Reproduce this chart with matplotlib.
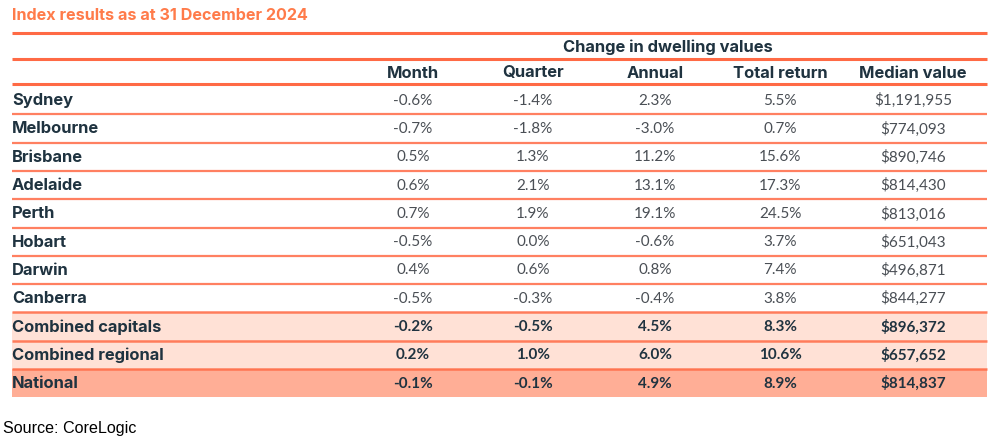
import matplotlib
matplotlib.use("Agg")
import matplotlib.pyplot as plt

title = "Index results as at 31 December 2024"
group_header = "Change in dwelling values"
columns = ["Month", "Quarter", "Annual", "Total return", "Median value"]
regions = ["Sydney", "Melbourne", "Brisbane", "Adelaide", "Perth", "Hobart",
           "Darwin", "Canberra", "Combined capitals", "Combined regional", "National"]
month = ["-0.6%", "-0.7%", "0.5%", "0.6%", "0.7%", "-0.5%", "0.4%", "-0.5%", "-0.2%", "0.2%", "-0.1%"]
quarter = ["-1.4%", "-1.8%", "1.3%", "2.1%", "1.9%", "0.0%", "0.6%", "-0.3%", "-0.5%", "1.0%", "-0.1%"]
annual = ["2.3%", "-3.0%", "11.2%", "13.1%", "19.1%", "-0.6%", "0.8%", "-0.4%", "4.5%", "6.0%", "4.9%"]
total_return = ["5.5%", "0.7%", "15.6%", "17.3%", "24.5%", "3.7%", "7.4%", "3.8%", "8.3%", "10.6%", "8.9%"]
median_value = ["$1,191,955", "$774,093", "$890,746", "$814,430", "$813,016", "$651,043",
                "$496,871", "$844,277", "$896,372", "$657,652", "$814,837"]
source = "Source: CoreLogic"

W, H = 1000, 442
fig = plt.figure(figsize=(W / 100, H / 100), dpi=100)
ax = fig.add_axes([0, 0, 1, 1])
ax.set_xlim(0, W)
ax.set_ylim(H, 0)
ax.axis("off")

ORANGE = "#FF6A45"
TITLE_C = "#FF7B4A"
DARK = "#1F3340"
GREY = "#4A4F55"
LIGHT_FILL = "#FFE1D6"
NAT_FILL = "#FFAE96"

x0, x1 = 12, 987
col_x = [413, 533, 655, 780, 913]
row_top = 86
row_h = 28.3
hfont = "Inter"
vfont = "Lato"
HW = "bold"
HS = 11.9

ax.text(x0, 15, title, color=TITLE_C, fontsize=11.6, fontweight=HW,
        family=hfont, ha="left", va="center")

# header lines
for y in (33, 59, 84):
    ax.hlines(y, x0, x1, color=ORANGE, lw=2.2)
ax.text(668, 47, group_header, color=DARK, fontsize=HS, fontweight=HW,
        family=hfont, ha="center", va="center")
for cx, c in zip(col_x, columns):
    ax.text(cx, 73, c, color=DARK, fontsize=HS, fontweight=HW,
            family=hfont, ha="center", va="center")

n = len(regions)
data_cols = [month, quarter, annual, total_return, median_value]
for i, r in enumerate(regions):
    top = row_top + i * row_h
    bot = top + row_h
    cy = top + row_h / 2 + 0.5
    bold = i >= 8
    if bold:
        fill = NAT_FILL if r == "National" else LIGHT_FILL
        ax.axhspan(top, bot, xmin=x0 / W, xmax=x1 / W, color=fill, lw=0, zorder=0)
    ax.text(x0, cy, r, color=DARK, fontsize=HS, fontweight=HW,
            family=hfont, ha="left", va="center")
    for cx, col in zip(col_x, data_cols):
        ax.text(cx, cy, col[i], color=DARK if bold else GREY, fontsize=11,
                fontweight="bold" if bold else "normal",
                family=vfont, ha="center", va="center")
    if i < n - 1:
        ax.hlines(bot, x0, x1, color=ORANGE, lw=1.8 if i >= 7 else 1.6, alpha=0.85)

ax.text(3, 428, source, color="black", fontsize=11.6, family="Liberation Sans",
        ha="left", va="center")

fig.savefig("out.png", dpi=100)
